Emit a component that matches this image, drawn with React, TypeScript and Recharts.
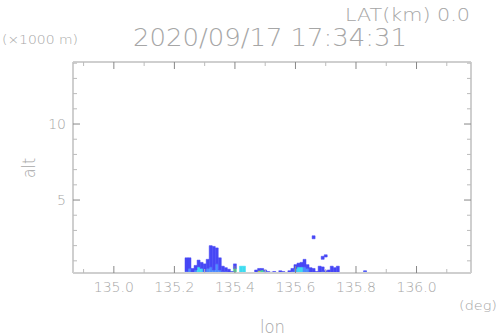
import { ComposedChart, Bar, XAxis, YAxis, Cell } from 'recharts'

// radar echo columns along the cross-section (lon in deg, alt in km)
const LON = [
  135.24, 135.25, 135.26, 135.27, 135.28, 135.29, 135.30, 135.31, 135.32, 135.33,
  135.34, 135.35, 135.36, 135.37, 135.38, 135.39, 135.40, 135.41, 135.42, 135.43,
  135.44, 135.45, 135.46, 135.47, 135.48, 135.49, 135.50, 135.51, 135.52, 135.53,
  135.54, 135.55, 135.56, 135.57, 135.58, 135.59, 135.60, 135.61, 135.62, 135.63,
  135.64, 135.65, 135.66, 135.67, 135.68, 135.69, 135.70, 135.71, 135.72, 135.73,
  135.74, 135.75, 135.76, 135.77, 135.78, 135.79, 135.80, 135.81, 135.82, 135.83,
]
const TOP = [
  1.2, 1.2, 0.5, 0.7, 1.05, 0.9, 0.8, 1.1, 2.0, 1.95,
  1.85, 1.2, 0.65, 0.55, 0.45, 0.3, 0.8, 0, 0.65, 0.65,
  0, 0, 0, 0.4, 0.5, 0.5, 0.4, 0.3, 0.25, 0.3,
  0, 0.35, 0.3, 0, 0.35, 0.5, 0.75, 0.85, 0.9, 1.1,
  0.75, 0.55, 0.5, 0.3, 0.65, 0.6, 0.35, 0.4, 0.65, 0.55,
  0.65, 0, 0, 0, 0, 0, 0, 0, 0, 0.35,
]
const CORE = [
  0.3, 0.5, 0, 0.4, 0.6, 0.5, 0.3, 0.5, 0.6, 0.4,
  0.8, 0.4, 0.3, 0.3, 0, 0, 0.5, 0, 0.65, 0.65,
  0, 0, 0, 0, 0.35, 0.4, 0.3, 0, 0, 0.25,
  0, 0, 0, 0, 0, 0.3, 0.5, 0.6, 0.6, 0.6,
  0.5, 0, 0, 0, 0, 0.3, 0, 0, 0, 0,
  0, 0, 0, 0, 0, 0, 0, 0, 0, 0.3,
]
const TONE = [
  1, 1, 0, 1, 2, 2, 1, 1, 1, 1,
  1, 1, 1, 1, 0, 0, 3, 0, 2, 2,
  0, 0, 0, 0, 4, 3, 2, 0, 0, 1,
  0, 0, 0, 0, 0, 1, 1, 2, 2, 1,
  1, 0, 0, 0, 0, 1, 0, 0, 0, 0,
  0, 0, 0, 0, 0, 0, 0, 0, 0, 1,
]
// isolated echoes above the main layer
const SPECK_LON = [135.66, 135.69, 135.70]
const SPECK_LO = [2.45, 1.1, 1.25]
const SPECK_HI = [2.65, 1.3, 1.4]

const X_TICKS = [134.9, 135.0, 135.1, 135.2, 135.3, 135.4, 135.5, 135.6, 135.7, 135.8, 135.9, 136.0, 136.1]
const Y_TICKS = [1, 2, 3, 4, 5, 6, 7, 8, 9, 10, 11, 12, 13, 14]
const Y_LABELS = [5, 10]

const X_DOMAIN = [134.865, 136.18]
const Y_DOMAIN = [0.2, 14.08]

const BLUE = '#4747f5'
const TONES = ['#4747f5', '#4f8cff', '#3fdcf0', '#48dc96', '#bce04a']
const FRAME = '#cfcfcf'
const TEXT = '#a6a6a6'
const FONT = '"DejaVu Sans", sans-serif'

// stacked segments: core from the ground, blue envelope above, empty gap, then the speck
const rows = LON.map((lon, i) => {
  const s = SPECK_LON.findIndex(v => Math.abs(v - lon) < 1e-6)
  const core = Math.min(CORE[i], TOP[i])
  return {
    lon,
    core,
    env: TOP[i] - core,
    gap: s >= 0 ? SPECK_LO[s] - TOP[i] : 0,
    speck: s >= 0 ? SPECK_HI[s] - SPECK_LO[s] : 0,
    tone: TONE[i],
  }
})

const isMajorX = (v: number) => Math.round(v * 10) % 2 === 0

function BottomTick({ x, y, payload }: any) {
  const major = isMajorX(payload.value)
  return (
    <g>
      <line x1={x} x2={x} y1={y} y2={y - (major ? 7 : 4)} stroke={major ? '#888' : '#bbb'} />
      {major && (
        <text x={x} y={y + 19} textAnchor="middle" fontSize={14} fill={TEXT} fontFamily={FONT} fontWeight={300}>
          {payload.value.toFixed(1)}
        </text>
      )}
    </g>
  )
}

function TopTick({ x, y, payload }: any) {
  const major = isMajorX(payload.value)
  return <line x1={x} x2={x} y1={y} y2={y + (major ? 7 : 4)} stroke={major ? '#888' : '#bbb'} />
}

function LeftTick({ x, y, payload }: any) {
  const major = Y_LABELS.includes(payload.value)
  return (
    <g>
      <line x1={x} x2={x + (major ? 7 : 4)} y1={y} y2={y} stroke={major ? '#888' : '#bbb'} />
      {major && (
        <text x={x - 7} y={y + 5} textAnchor="end" fontSize={14} fill={TEXT} fontFamily={FONT} fontWeight={300}>
          {payload.value}
        </text>
      )}
    </g>
  )
}

function RightTick({ x, y, payload }: any) {
  const major = Y_LABELS.includes(payload.value)
  return <line x1={x} x2={x - (major ? 7 : 4)} y1={y} y2={y} stroke={major ? '#888' : '#bbb'} />
}

export default function App() {
  const txt = { fill: TEXT, fontFamily: FONT, fontWeight: 300 }
  return (
    <div style={{ position: 'absolute', left: 0, top: 0, width: 498, height: 336, background: '#fff' }}>
      <ComposedChart width={498} height={336} data={rows} margin={{ top: 60, right: 25, bottom: 33, left: 43 }} barCategoryGap={0} barGap={0}>
        <XAxis xAxisId="b" dataKey="lon" type="number" domain={X_DOMAIN} allowDataOverflow ticks={X_TICKS} interval={0}
          height={30} tickSize={0} tickMargin={0} tick={<BottomTick />} axisLine={{ stroke: FRAME, strokeWidth: 2 }} />
        <XAxis xAxisId="t" orientation="top" dataKey="lon" type="number" domain={X_DOMAIN} allowDataOverflow ticks={X_TICKS} interval={0}
          height={2} tickSize={0} tickMargin={0} tick={<TopTick />} axisLine={{ stroke: FRAME, strokeWidth: 2 }} />
        <YAxis yAxisId="l" type="number" domain={Y_DOMAIN} allowDataOverflow ticks={Y_TICKS} interval={0}
          width={30} tickSize={0} tickMargin={0} tick={<LeftTick />} axisLine={{ stroke: FRAME, strokeWidth: 2 }} />
        <YAxis yAxisId="r" orientation="right" type="number" domain={Y_DOMAIN} allowDataOverflow ticks={Y_TICKS} interval={0}
          width={2} tickSize={0} tickMargin={0} tick={<RightTick />} axisLine={{ stroke: FRAME, strokeWidth: 2 }} />
        <Bar xAxisId="b" yAxisId="l" stackId="c" dataKey="core" barSize={3} isAnimationActive={false}>
          {rows.map((r, i) => <Cell key={i} fill={TONES[r.tone]} stroke={TONES[r.tone]} strokeWidth={0.5} />)}
        </Bar>
        <Bar xAxisId="b" yAxisId="l" stackId="c" dataKey="env" fill={BLUE} stroke={BLUE} strokeWidth={0.5} barSize={3} isAnimationActive={false} />
        <Bar xAxisId="b" yAxisId="l" stackId="c" dataKey="gap" fill="transparent" barSize={3} isAnimationActive={false} />
        <Bar xAxisId="b" yAxisId="l" stackId="c" dataKey="speck" fill={BLUE} stroke={BLUE} strokeWidth={0.5} barSize={3} isAnimationActive={false} />
      </ComposedChart>
      <svg width={498} height={336} style={{ position: 'absolute', left: 0, top: 0, pointerEvents: 'none' }}>
        <text x={345} y={21} fontSize={17} textLength={125} lengthAdjust="spacingAndGlyphs" {...txt}>LAT(km) 0.0</text>
        <text x={2} y={44} fontSize={13} textLength={76} lengthAdjust="spacingAndGlyphs" {...txt}>(×1000 m)</text>
        <text x={133} y={46} fontSize={24} textLength={274} lengthAdjust="spacingAndGlyphs" {...txt}>2020/09/17 17:34:31</text>
        <text x={459} y={310} fontSize={13} textLength={38} lengthAdjust="spacingAndGlyphs" {...txt}>(deg)</text>
        <text x={260} y={333} fontSize={18} textLength={25} lengthAdjust="spacingAndGlyphs" {...txt}>lon</text>
        <text x={0} y={0} transform="translate(35,168) rotate(-90)" textAnchor="middle" fontSize={17} textLength={20} lengthAdjust="spacingAndGlyphs" {...txt}>alt</text>
      </svg>
    </div>
  )
}
